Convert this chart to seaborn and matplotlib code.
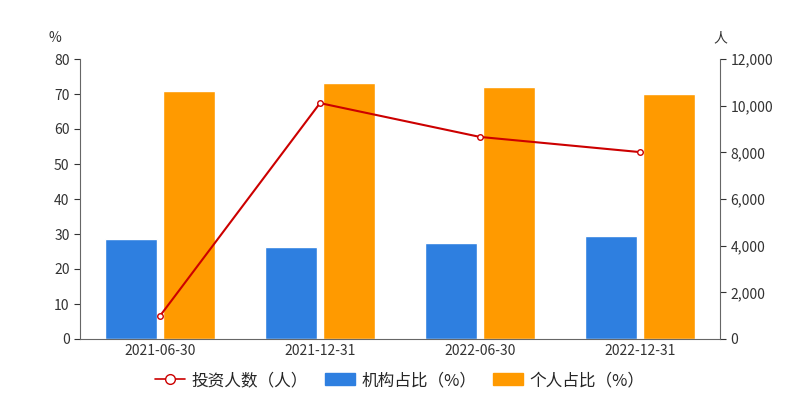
import matplotlib
matplotlib.use("Agg")
import matplotlib.pyplot as plt
import seaborn as sns
import numpy as np
import pandas as pd
from matplotlib.lines import Line2D
from matplotlib.patches import Patch

dates = ["2021-06-30", "2021-12-31", "2022-06-30", "2022-12-31"]
inst_pct = [28.6, 26.3, 27.4, 29.4]
indiv_pct = [70.9, 73.1, 72.0, 70.0]
investors = [990, 10110, 8660, 8010]

sns.set_style("white")
plt.rcParams['font.family'] = ['Noto Sans CJK SC', 'DejaVu Sans']

fig = plt.figure(figsize=(8, 4), dpi=100)
ax = fig.add_axes([0.1, 0.1525, 0.8, 0.7])

df = pd.DataFrame({
    "date": dates * 2,
    "val": inst_pct + indiv_pct,
    "kind": ["机构占比（%）"] * 4 + ["个人占比（%）"] * 4,
})
sns.barplot(data=df, x="date", y="val", hue="kind", ax=ax,
            palette=["#2e7fe0", "#ff9a00"], width=0.73, gap=0.1,
            saturation=1, legend=False)
ax.set_ylim(0, 80)
ax.set_xlim(-0.5, 3.5)
ax.set_yticks(range(0, 81, 10))
ax.set_xlabel("")
ax.set_ylabel("")
ax.tick_params(labelsize=10, colors="#333333", length=4)
for s in ["top", "right"]:
    ax.spines[s].set_visible(False)
for s in ["left", "bottom"]:
    ax.spines[s].set_color("#666666")
ax.set_xticks(np.arange(-0.5, 4, 1), minor=True)
ax.tick_params(axis="x", which="major", length=0)
ax.tick_params(axis="x", which="minor", length=5, color="#666666")
ax.text(-0.04, 1.06, "%", transform=ax.transAxes, fontsize=10, color="#333333", ha="center")

ax2 = ax.twinx()
ax2.plot(range(4), investors, color="#cc0000", lw=1.5, marker="o", ms=4,
         mfc="white", mec="#cc0000")
ax2.set_ylim(0, 12000)
ax2.set_yticks(range(0, 12001, 2000))
ax2.set_yticklabels([f"{v:,}" for v in range(0, 12001, 2000)])
ax2.tick_params(labelsize=10, colors="#333333", length=4)
for s in ["top", "left", "bottom"]:
    ax2.spines[s].set_visible(False)
ax2.spines["right"].set_color("#666666")
ax2.text(1.0, 1.06, "人", transform=ax2.transAxes, fontsize=10, color="#333333", ha="center")

handles = [
    Line2D([0], [0], color="#cc0000", marker="o", mfc="white", ms=7, lw=1.2),
    Patch(color="#2e7fe0"), Patch(color="#ff9a00"),
]
fig.legend(handles, ["投资人数（人）", "机构占比（%）", "个人占比（%）"],
           loc="lower center", bbox_to_anchor=(0.5, -0.01), ncol=3, frameon=False,
           fontsize=12, handlelength=1.8, columnspacing=1.0, handletextpad=0.4)

fig.savefig("out.png", dpi=100)
